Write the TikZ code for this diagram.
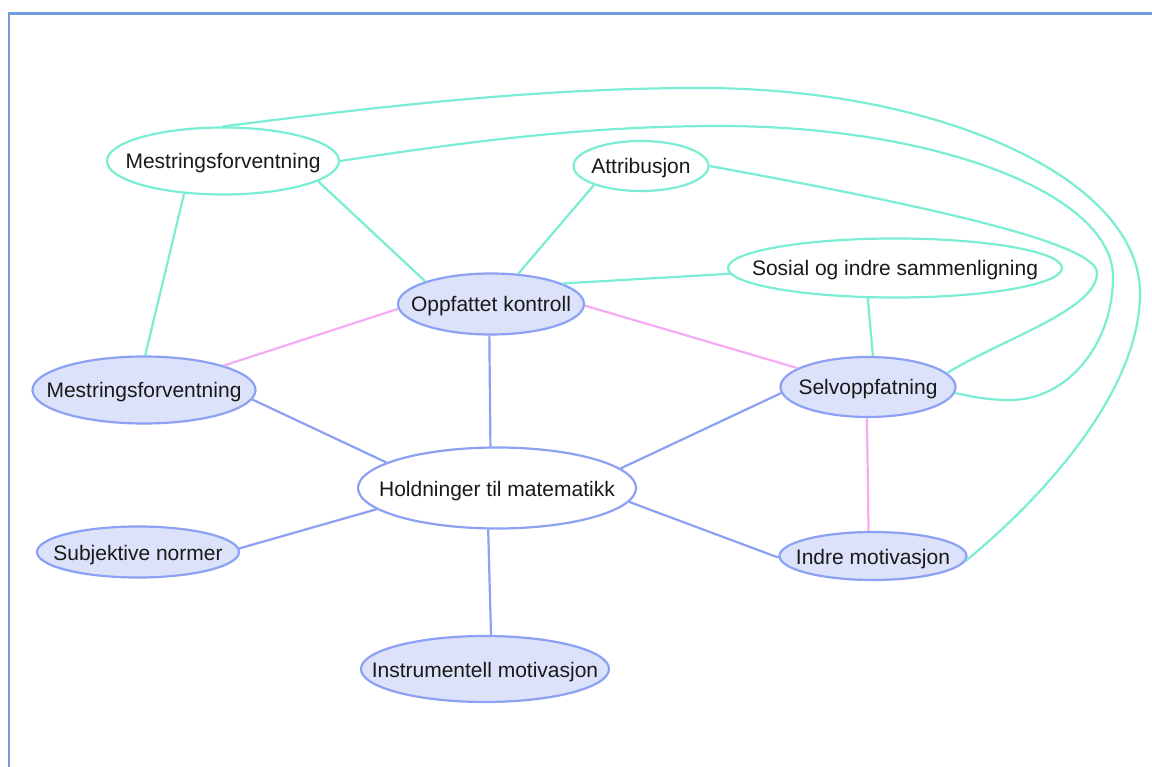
\documentclass[tikz,border=0pt]{standalone}
\usepackage{fontspec}
\setmainfont{Liberation Sans}
\usetikzlibrary{shapes.geometric}
\definecolor{frameblue}{RGB}{110,158,216}
\definecolor{mint}{RGB}{122,238,212}
\definecolor{nodeblue}{RGB}{140,160,244}
\definecolor{fillblue}{RGB}{221,226,251}
\definecolor{pinkline}{RGB}{245,170,245}
\definecolor{txt}{RGB}{25,25,25}
\begin{document}
\begin{tikzpicture}[x=1pt,y=-1pt,
  every node/.style={ellipse, inner sep=0pt, text height=16pt, text depth=0pt,
    font=\fontsize{21}{25}\selectfont, text=txt, line width=2.2pt},
  greennode/.style={draw=mint, fill=white},
  bluenode/.style={draw=nodeblue, fill=fillblue},
  whitenode/.style={draw=nodeblue, fill=white},
  gline/.style={draw=mint, line width=2.2pt},
  bline/.style={draw=nodeblue, line width=2.2pt},
  pline/.style={draw=pinkline, line width=2.2pt}]
\clip (0,0) rectangle (1152,767);
\fill[white] (0,0) rectangle (1152,767);
\draw[frameblue, line width=2.5pt] (9,780) -- (9,13.5) -- (1165,13.5);

% nodes
\node[greennode, minimum width=232pt, minimum height=67pt] (mt) at (223,161) {\makebox[0pt]{Mestringsforventning}};
\node[greennode, minimum width=135pt, minimum height=50pt] (at) at (641,166) {\makebox[0pt]{Attribusjon}};
\node[greennode, minimum width=334pt, minimum height=59pt] (so) at (895,268) {\makebox[0pt]{Sosial og indre sammenligning}};
\node[bluenode, minimum width=186pt, minimum height=61pt] (ok) at (491,304) {\makebox[0pt]{Oppfattet kontroll}};
\node[bluenode, minimum width=223pt, minimum height=67pt] (mb) at (144,390) {\makebox[0pt]{Mestringsforventning}};
\node[bluenode, minimum width=175pt, minimum height=60pt] (sv) at (868,387) {\makebox[0pt]{Selvoppfatning}};
\node[whitenode, minimum width=278pt, minimum height=81pt] (ho) at (497,488) {\makebox[0pt]{Holdninger til matematikk}};
\node[bluenode, minimum width=202pt, minimum height=51pt] (sj) at (138,552) {\makebox[0pt]{Subjektive normer}};
\node[bluenode, minimum width=187pt, minimum height=48pt] (im) at (873,556) {\makebox[0pt]{Indre motivasjon}};
\node[bluenode, minimum width=248pt, minimum height=66pt] (ins) at (485,669) {\makebox[0pt]{Instrumentell motivasjon}};

% green connectors
\draw[gline] (mt.-12) -- (ok.161);
\draw[gline] (mt.-140) -- (mb.88);
\draw[gline] (at.202) -- (ok.48);
\draw[gline] (so.182) -- (ok.16);
\draw[gline] (so.-132) -- (sv.81);
\draw[gline] (mt.north) .. controls (384,106) and (540,88) .. (700,88)
  .. controls (943,88) and (1140,180) .. (1140,293)
  .. controls (1140,393) and (1040,500) .. (im.-3);
\draw[gline] (mt.east) .. controls (490,138) and (600,126) .. (720,126)
  .. controls (936,126) and (1113,194) .. (1113,277)
  .. controls (1113,345) and (1067,400) .. (1010,400)
  .. controls (985,400) and (970,396) .. (sv.-4);
\draw[gline] (at.east) .. controls (950,210) and (1097,245) .. (1097,273)
  .. controls (1097,310) and (1000,340) .. (sv.10);

% pink connectors
\draw[pline] (ok.183) -- (mb.17);
\draw[pline] (ok.-1) -- (sv.165);
\draw[pline] (sv.-92) -- (im.100);

% blue connectors
\draw[bline] (ok.-93) -- (ho.99);
\draw[bline] (mb.-5) -- (ho.167);
\draw[bline] (sv.184) -- (ho.9);
\draw[bline] (sj.2) -- (ho.190);
\draw[bline] (im.181) -- (ho.-6);
\draw[bline] (ins.80) -- (ho.-102);
\end{tikzpicture}
\end{document}
